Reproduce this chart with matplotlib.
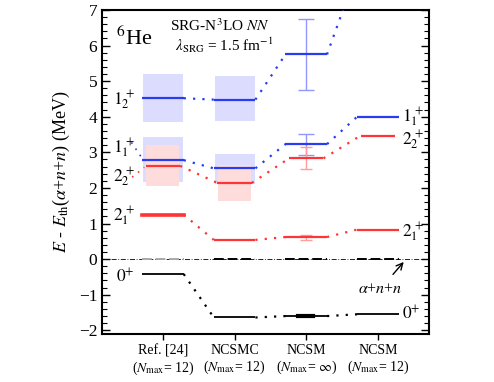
import matplotlib.pyplot as plt

plt.rcParams['font.family'] = ['Liberation Serif', 'DejaVu Serif']
plt.rcParams['mathtext.fontset'] = 'stix'

columns = ["Ref. [24]", "NCSMC", "NCSM", "NCSM"]
nmax = ["12", "12", r"$\infty$", "12"]

# level energies (MeV) per column
e_0 = [-0.42, -1.64, -1.60, -1.55]
e_21 = [1.25, 0.54, 0.62, 0.83]
e_22 = [2.62, 2.14, 2.83, 3.47]
e_11 = [2.78, 2.55, 3.23, 4.00]
e_12 = [4.52, 4.48, 5.75, 8.10]

# uncertainty boxes for Ref. [24] and NCSMC
box_12 = [(3.86, 5.21), (3.89, 5.14)]
box_11 = [(2.17, 3.43), (2.12, 2.95)]
box_22 = [(2.04, 3.21), (1.63, 2.64)]

# error bars for NCSM (Nmax = inf)
err_12 = (4.74, 6.75)
err_11 = (2.93, 3.52)
err_22 = (2.53, 3.14)
err_21 = (0.55, 0.69)

blue = '#2a3cf0'
red = '#ff3434'
hw = 0.29
hw22 = 0.24

fig = plt.figure(figsize=(4.94, 3.82), dpi=100)
ax = fig.add_axes([0.2065, 0.126, 0.6615, 0.848])
x = list(range(len(columns)))

# boxes
for i in range(2):
    for (lo, hi) in [box_12[i], box_11[i]]:
        ax.fill_between([x[i] - 0.28, x[i] + 0.28], lo, hi, color='#dcdcff', lw=0, zorder=1)
    lo, hi = box_22[i]
    ax.fill_between([x[i] - 0.23, x[i] + 0.23], lo, hi, color='#ffdcdc', lw=0, zorder=1.5)

# threshold
ax.axhline(0, color='black', lw=0.6, ls=(0, (6, 2, 1, 2)), zorder=2)
for i in x:
    ax.plot([i - hw, i + hw], [0, 0], color='#aaaaaa' if i == 0 else 'black',
            lw=1.4, ls=(0, (5, 2)), zorder=3)


def levels(vals, color, w, lw=1.6):
    for i, v in enumerate(vals):
        ax.plot([x[i] - w, x[i] + w], [v, v], color=color, lw=lw, zorder=4,
                solid_capstyle='butt')
        if i + 1 < len(vals):
            ax.plot([x[i] + w, x[i + 1] - w], [v, vals[i + 1]], color=color,
                    lw=1.6, ls=(0, (1, 3.2)), zorder=4)


levels(e_0, 'black', hw, 1.3)
levels(e_21, red, hw)
levels(e_22, red, hw22)
levels(e_11, blue, hw)
levels(e_12, blue, hw)
ax.plot([x[0] - hw, x[0] + hw], [e_21[0], e_21[0]], color=red, lw=2.6, zorder=4)
ax.plot([x[2] - 0.12, x[2] + 0.09], [e_0[2], e_0[2]], color='black', lw=3, zorder=5)

for (lo, hi), v, c, cs in [(err_12, e_12[2], '#9098ff', 6), (err_11, e_11[2], '#9098ff', 6),
                           (err_22, e_22[2], '#ff9c9c', 4.5), (err_21, e_21[2], '#ff9c9c', 4.5)]:
    ax.errorbar(x[2], v, yerr=[[v - lo], [hi - v]], color=c, lw=1, capsize=cs,
                capthick=1, zorder=3.5)

# left labels with dotted leaders
fs = 12.5
ax.text(-0.39, 4.45, r'$1_2^{\,+}$', ha='right', va='center', fontsize=fs)
ax.text(-0.39, 3.12, r'$1_1^{\,+}$', ha='right', va='center', fontsize=fs)
ax.text(-0.39, 2.30, r'$2_2^{\,+}$', ha='right', va='center', fontsize=fs)
ax.text(-0.39, 1.20, r'$2_1^{\,+}$', ha='right', va='center', fontsize=fs)
ax.text(-0.39, -0.50, r'$0^{+}$', ha='right', va='center', fontsize=fs)
ax.plot([-0.44, -0.30], [3.28, 2.86], color=blue, lw=1.2, ls=(0, (1, 3.5)))
ax.plot([-0.43, -0.26], [2.30, 2.58], color=red, lw=1.2, ls=(0, (1, 3.5)))

# right labels
ax.text(3.33, 3.98, r'$1_1^{\,+}$', ha='left', va='center', fontsize=fs)
ax.text(3.33, 3.35, r'$2_2^{\,+}$', ha='left', va='center', fontsize=fs)
ax.text(3.33, 0.75, r'$2_1^{\,+}$', ha='left', va='center', fontsize=fs)
ax.text(3.33, -1.55, r'$0^{+}$', ha='left', va='center', fontsize=fs)

ax.annotate(r'$\alpha$+$n$+$n$', xy=(3.36, -0.08), xytext=(3.03, -0.85),
            ha='center', va='center', fontsize=11.5,
            arrowprops=dict(arrowstyle='->', color='black', lw=1, shrinkA=4, shrinkB=0))

ax.text(-0.66, 6.2, r'$^{6}$He', ha='left', va='center', fontsize=16)
ax.text(0.10, 6.57, r'SRG-N$^3$LO $NN$', ha='left', va='center', fontsize=11)
ax.text(0.17, 6.02, r'$\lambda_{\rm SRG}$ = 1.5 fm$^{-1}$', ha='left', va='center', fontsize=11)

ax.set_xlim(-0.85, 3.71)
ax.set_ylim(-2.1, 7)
ax.set_xticks(x)
ax.set_xticklabels([f'{c}\n($N_{{\\rm max}}$= {n})' for c, n in zip(columns, nmax)],
                   fontsize=10, linespacing=1.15)
ax.set_yticks(range(-2, 8))
ax.set_yticks([v / 5 for v in range(-10, 36)], minor=True)
ax.tick_params(axis='y', which='both', direction='in', left=True, right=True, labelsize=12.5)
ax.tick_params(axis='y', which='major', length=6, width=1)
ax.tick_params(axis='y', which='minor', length=3.5, width=0.8)
ax.tick_params(axis='x', direction='out', length=4, width=1, top=False)
for s in ax.spines.values():
    s.set_linewidth(1.5)
ax.set_ylabel(r'$E$ - $E_{\rm th}$($\alpha$+$n$+$n$) (MeV)', fontsize=13, labelpad=5)

fig.savefig('out.png', dpi=100)
